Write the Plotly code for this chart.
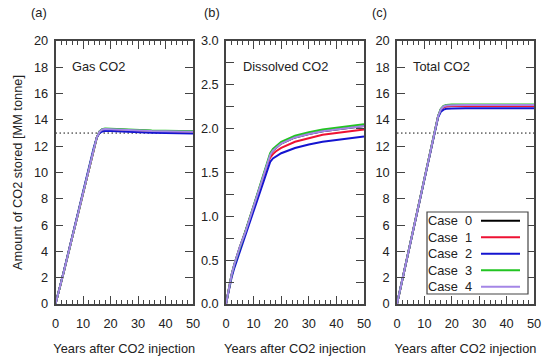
import plotly.graph_objects as go

years = [0, 1, 2, 3, 5, 7, 10, 12, 14, 15, 16, 17, 18, 20, 25, 30, 35, 40, 45, 50]
case_names = ["Case \u00a00", "Case \u00a01", "Case \u00a02", "Case \u00a03", "Case \u00a04"]
case_colors = ["#000000", "#ee1133", "#1414d0", "#22c422", "#a486e6"]

gas_case0 = [0, 0.77, 1.59, 2.43, 4.15, 5.90, 8.49, 10.21, 11.88, 12.66, 13.10, 13.27, 13.31, 13.29, 13.23, 13.19, 13.16, 13.14, 13.12, 13.10]
gas_case1 = [0, 0.78, 1.60, 2.44, 4.17, 5.91, 8.50, 10.23, 11.91, 12.65, 13.08, 13.24, 13.28, 13.27, 13.21, 13.17, 13.13, 13.11, 13.09, 13.07]
gas_case2 = [0, 0.79, 1.62, 2.47, 4.20, 5.95, 8.55, 10.28, 11.95, 12.65, 13.00, 13.12, 13.16, 13.15, 13.10, 13.06, 13.03, 13.01, 12.99, 12.97]
gas_case3 = [0, 0.77, 1.59, 2.43, 4.15, 5.89, 8.48, 10.20, 11.87, 12.66, 13.13, 13.30, 13.34, 13.32, 13.26, 13.22, 13.19, 13.17, 13.15, 13.13]
gas_case4 = [0, 0.77, 1.59, 2.43, 4.15, 5.90, 8.49, 10.21, 11.88, 12.66, 13.10, 13.27, 13.31, 13.29, 13.23, 13.19, 13.16, 13.14, 13.12, 13.10]

dis_case0 = [0, 0.19, 0.33, 0.45, 0.65, 0.82, 1.11, 1.31, 1.52, 1.62, 1.70, 1.75, 1.78, 1.83, 1.90, 1.94, 1.97, 1.99, 2.01, 2.03]
dis_case1 = [0, 0.18, 0.32, 0.44, 0.63, 0.81, 1.10, 1.29, 1.49, 1.60, 1.67, 1.71, 1.74, 1.78, 1.85, 1.89, 1.93, 1.95, 1.97, 1.99]
dis_case2 = [0, 0.17, 0.30, 0.41, 0.60, 0.77, 1.05, 1.24, 1.45, 1.55, 1.62, 1.66, 1.68, 1.72, 1.78, 1.82, 1.85, 1.87, 1.89, 1.91]
dis_case3 = [0, 0.19, 0.33, 0.45, 0.65, 0.83, 1.12, 1.32, 1.53, 1.64, 1.72, 1.77, 1.80, 1.85, 1.92, 1.96, 1.99, 2.01, 2.03, 2.05]
dis_case4 = [0, 0.19, 0.33, 0.45, 0.65, 0.82, 1.11, 1.31, 1.52, 1.62, 1.70, 1.75, 1.78, 1.83, 1.90, 1.94, 1.97, 1.99, 2.01, 2.03]

tot_case0 = [0, 0.96, 1.92, 2.88, 4.80, 6.72, 9.60, 11.52, 13.40, 14.28, 14.80, 15.02, 15.09, 15.12, 15.13, 15.13, 15.13, 15.13, 15.13, 15.13]
tot_case1 = [0, 0.96, 1.92, 2.88, 4.80, 6.72, 9.60, 11.52, 13.40, 14.25, 14.75, 14.95, 15.02, 15.05, 15.06, 15.06, 15.06, 15.06, 15.06, 15.06]
tot_case2 = [0, 0.96, 1.92, 2.88, 4.80, 6.72, 9.60, 11.52, 13.40, 14.20, 14.62, 14.78, 14.84, 14.87, 14.88, 14.88, 14.88, 14.88, 14.88, 14.88]
tot_case3 = [0, 0.96, 1.92, 2.88, 4.80, 6.72, 9.60, 11.52, 13.40, 14.30, 14.85, 15.07, 15.14, 15.17, 15.18, 15.18, 15.18, 15.18, 15.18, 15.18]
tot_case4 = [0, 0.96, 1.92, 2.88, 4.80, 6.72, 9.60, 11.52, 13.40, 14.28, 14.80, 15.02, 15.09, 15.12, 15.13, 15.13, 15.13, 15.13, 15.13, 15.13]

ref_level = 13
ref_years = [0, 50]

panel_titles = ["Gas CO2", "Dissolved CO2", "Total CO2"]
panel_letters = ["(a)", "(b)", "(c)"]
x_title = "Years after CO2 injection"
y_title = "Amount of CO2 stored [MM tonne]"

gas = [gas_case0, gas_case1, gas_case2, gas_case3, gas_case4]
dis = [dis_case0, dis_case1, dis_case2, dis_case3, dis_case4]
tot = [tot_case0, tot_case1, tot_case2, tot_case3, tot_case4]

W, H = 550, 361
FONT = "Liberation Sans, Arial, sans-serif"
FS = 12.8
AX = "#444444"
TXT = "#222222"

xdom = [[55.5 / W, 193 / W], [226 / W, 364 / W], [397 / W, 534 / W]]
ydom = [(H - 304) / H, (H - 41) / H]

fig = go.Figure()

panels = [gas, dis, tot]
for p, series in enumerate(panels):
    xa = "x" if p == 0 else f"x{p+1}"
    ya = "y" if p == 0 else f"y{p+1}"
    if p != 1:
        fig.add_trace(go.Scatter(x=ref_years, y=[ref_level, ref_level], mode="lines",
                                 line=dict(color="#111111", width=1, dash="1.5px,2.5px"),
                                 xaxis=xa, yaxis=ya, showlegend=False, hoverinfo="skip"))
    for i, vals in enumerate(series):
        fig.add_trace(go.Scatter(x=years, y=vals, mode="lines", name=case_names[i],
                                 line=dict(color=case_colors[i], width=2),
                                 xaxis=xa, yaxis=ya, showlegend=False))

for p in range(3):
    sfx = "" if p == 0 else str(p + 1)
    fig.layout["xaxis" + sfx] = dict(
        domain=xdom[p], range=[0, 50], anchor="y" + sfx, automargin=False,
        tickmode="array", tickvals=[0, 10, 20, 30, 40, 50],
        ticks="inside", ticklen=8, tickwidth=1, tickcolor=AX, ticklabelstandoff=7,
        minor=dict(dtick=2, ticks="inside", ticklen=4, tickcolor=AX, showgrid=False),
        showline=True, linecolor=AX, linewidth=1.5, mirror="ticks",
        showgrid=False, zeroline=False,
        tickfont=dict(family=FONT, size=FS, color=TXT),
        title=dict(text=x_title, font=dict(family=FONT, size=FS, color=TXT), standoff=14),
    )
    if p == 1:
        yr, tv, tt = [0, 3], [0, 0.5, 1, 1.5, 2, 2.5, 3], ["0.0", "0.5", "1.0", "1.5", "2.0", "2.5", "3.0"]
        minor = dict(dtick=0.25, ticks="inside", ticklen=8, tickcolor=AX, showgrid=False)
    else:
        yr, tv = [0, 20], list(range(0, 21, 2))
        tt = [str(v) for v in tv]
        minor = None
    yd = dict(
        domain=ydom, range=yr, anchor="x" + sfx, automargin=False,
        tickmode="array", tickvals=tv, ticktext=tt,
        ticks="inside", ticklen=8, tickwidth=1, tickcolor=AX, ticklabelstandoff=3,
        showline=True, linecolor=AX, linewidth=1.5, mirror="ticks",
        showgrid=False, zeroline=False,
        tickfont=dict(family=FONT, size=FS, color=TXT),
    )
    if minor:
        yd["minor"] = minor
    if p == 0:
        yd["title"] = dict(text=y_title, font=dict(family=FONT, size=FS, color=TXT), standoff=8)
    fig.layout["yaxis" + sfx] = yd

annotations = []
letter_x = [29, 202, 370]
title_x = [70, 241, 411]
for p in range(3):
    annotations.append(dict(text=panel_letters[p], x=letter_x[p] / W, y=(H - 13) / H, xref="paper", yref="paper",
                            xanchor="left", yanchor="middle", showarrow=False,
                            font=dict(family=FONT, size=FS, color=TXT)))
    annotations.append(dict(text=panel_titles[p], x=title_x[p] / W, y=(H - 66) / H, xref="paper", yref="paper",
                            xanchor="left", yanchor="middle", showarrow=False,
                            font=dict(family=FONT, size=FS, color=TXT)))

# custom legend in panel (c): text on left, line sample on right
shapes = [dict(type="rect", xref="paper", yref="paper", x0=427 / W, x1=528 / W,
               y0=(H - 294) / H, y1=(H - 212) / H, line=dict(color=AX, width=1.2),
               fillcolor="white", layer="above")]
for i, nm in enumerate(case_names):
    yy = (H - (220.7 + 16.5 * i)) / H
    annotations.append(dict(text=nm, x=474 / W, y=yy, xref="paper", yref="paper",
                            xanchor="right", yanchor="middle", showarrow=False,
                            font=dict(family=FONT, size=FS, color=TXT)))
    shapes.append(dict(type="line", xref="paper", yref="paper", x0=481 / W, x1=520 / W,
                       y0=yy, y1=yy, line=dict(color=case_colors[i], width=2), layer="above"))

fig.update_layout(template="none", width=W, height=H, margin=dict(l=0, r=0, t=0, b=0, autoexpand=False),
                  paper_bgcolor="white", plot_bgcolor="white",
                  annotations=annotations, shapes=shapes, showlegend=False)

fig.write_html("out.html", config={"displayModeBar": False},
               post_script="document.body.style.margin='0';document.body.style.overflow='hidden';")
